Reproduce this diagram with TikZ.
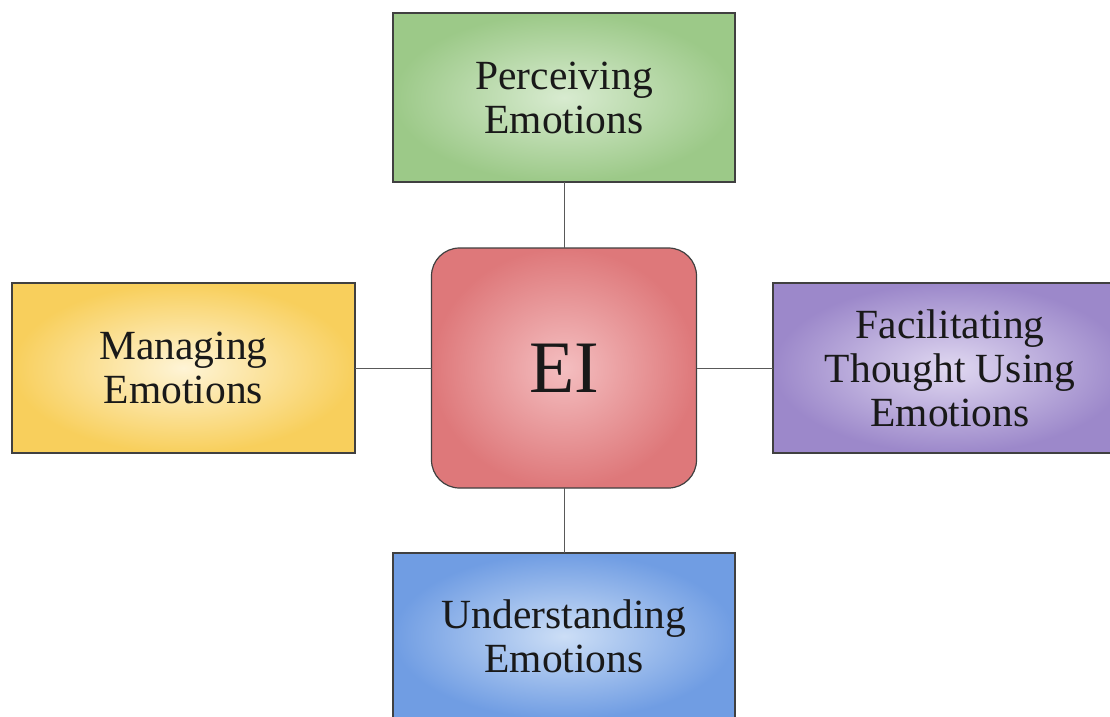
\documentclass[tikz,border=0pt]{standalone}
\usepackage{fontspec}
\setmainfont{Liberation Serif}
\begin{document}
\begin{tikzpicture}[x=1pt,y=-1pt,
  box/.style={draw=black!75,line width=1.2pt,rectangle,inner sep=0pt,outer sep=0pt,
    align=center,text=black!90,font=\fontsize{41.5}{44}\selectfont,shading=radial},
  link/.style={draw=black!65,line width=1pt}]
\definecolor{gEdge}{RGB}{156,201,136}\definecolor{gMid}{RGB}{216,235,208}
\definecolor{yEdge}{RGB}{248,207,92}\definecolor{yMid}{RGB}{254,244,214}
\definecolor{pEdge}{RGB}{156,136,202}\definecolor{pMid}{RGB}{224,216,241}
\definecolor{bEdge}{RGB}{112,157,227}\definecolor{bMid}{RGB}{204,222,246}
\definecolor{rEdge}{RGB}{222,120,122}\definecolor{rMid}{RGB}{244,190,192}
\path[use as bounding box] (0,0) rectangle (1110,716);
\clip (0,0) rectangle (1110,716);
\fill[white] (0,0) rectangle (1110,716);
\node[box,inner color=gMid,outer color=gEdge,minimum width=342pt,minimum height=169pt] (per) at (564,97.5) {Perceiving\\Emotions};
\node[box,inner color=yMid,outer color=yEdge,minimum width=343pt,minimum height=170pt] (man) at (183.5,368) {Managing\\Emotions};
\node[box,inner color=pMid,outer color=pEdge,minimum width=354pt,minimum height=170pt] (fac) at (950,368) {Facilitating\\Thought Using\\Emotions};
\node[box,inner color=bMid,outer color=bEdge,minimum width=342pt,minimum height=166pt] (und) at (564,636) {Understanding\\Emotions};
\node[box,rounded corners=28pt,inner color=rMid,outer color=rEdge,minimum width=265pt,minimum height=240pt,font=\fontsize{74}{80}\selectfont] (ei) at (564,368) {EI};
\draw[link] (per.south) -- (ei.north);
\draw[link] (ei.south) -- (und.north);
\draw[link] (man.east) -- (ei.west);
\draw[link] (ei.east) -- (fac.west);
\end{tikzpicture}
\end{document}
